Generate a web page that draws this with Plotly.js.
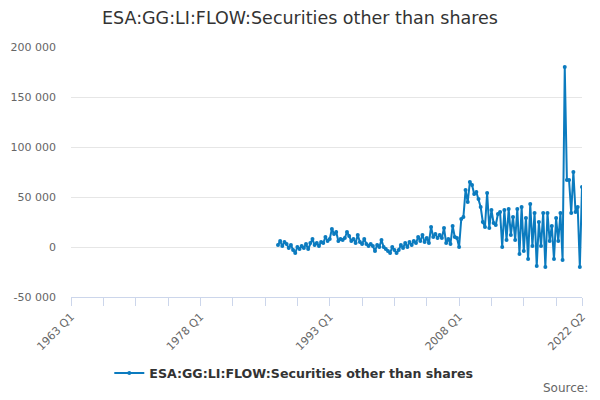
<!DOCTYPE html>
<html>
<head>
<meta charset="utf-8">
<script src="https://cdn.plot.ly/plotly-3.0.1.min.js"></script>
<style>
  html, body { margin: 0; padding: 0; background: #fff; }
  #chart { width: 600px; height: 400px; }
</style>
</head>
<body>
<div id="chart"></div>
<script>
// quarters on the category axis, 1963 Q1 .. 2022 Q2
var quarters = [];
for (var yr = 1963; yr <= 2022; yr++) {
  for (var q = 1; q <= 4; q++) {
    if (yr == 2022 && q > 2) break;
    quarters.push(yr + " Q" + q);
  }
}

// series starts at 1987 Q1
var firstQuarter = "1987 Q1";
var flowValues = [
  // 1987 - 1991
  2000, 6000, 1000, 5000, 3000, -1000, 2000, -3000, -6000, 0,
  -2000, 1000, -1000, 3000, -2000, 4000, 8000, 2000, 4000, 1000,
  // 1992 - 1996
  5000, 4000, 10000, 6000, 8000, 18000, 13000, 15000, 6000, 8000,
  7000, 9000, 15000, 11000, 6000, 8000, 4000, 12000, 5000, 3000,
  // 1997 - 2001
  8000, 3000, 1000, 3000, 1000, -4000, 2000, 0, 7000, 0,
  -2000, -4000, -6000, 0, -3000, -6000, -3000, 2000, -1000, 4000,
  // 2002 - 2006
  0, 5000, 2000, 6000, 4000, 10000, 6000, 12000, 5000, 9000,
  4000, 20000, 10000, 13000, 9000, 12000, 9000, 19000, 4000, 8000,
  // 2007 - 2011
  3000, 21000, 10000, 9000, 0, 28000, 30000, 57000, 45000, 65000,
  62000, 53000, 55000, 48000, 40000, 25000, 20000, 54000, 19000, 37000,
  // 2012 - 2016
  24000, 22000, 33000, 35000, 0, 37000, 7000, 38000, 12000, 30000,
  7000, 38000, -7000, 40000, -4000, 29000, -12000, 43000, 1000, 34000,
  // 2017 - 2022 Q2
  -19000, 25000, 1000, 34000, -20000, 34000, 6000, 21000, -12000, 29000,
  6000, 34000, -13000, 180000, 67000, 67000, 34000, 75000, 35000, 40000,
  -20000, 60000
];

var seriesName = "ESA:GG:LI:FLOW:Securities other than shares";
var chartTitle = "ESA:GG:LI:FLOW:Securities other than shares";

var yTickVals = [-50000, 0, 50000, 100000, 150000, 200000];
var yTickText = ["-50 000", "0", "50 000", "100 000", "150 000", "200 000"];

var xLabelled = ["1963 Q1", "1978 Q1", "1993 Q1", "2008 Q1", "2022 Q2"];

var start = quarters.indexOf(firstQuarter);
var xs = quarters.slice(start, start + flowValues.length);

// ticks every 15 quarters plus the last one
var xTickVals = [], xTickText = [];
for (var i = 0; i < quarters.length; i += 15) {
  xTickVals.push(quarters[i]);
  xTickText.push(xLabelled.indexOf(quarters[i]) >= 0 ? quarters[i] : "");
}
xTickVals.push(quarters[quarters.length - 1]);
xTickText.push(quarters[quarters.length - 1]);

var trace = {
  x: xs,
  y: flowValues,
  mode: "lines+markers",
  type: "scatter",
  name: seriesName,
  line: { color: "#0b7bbf", width: 2 },
  marker: { color: "#0b7bbf", size: 4 }
};

var layout = {
  width: 600,
  height: 400,
  margin: { l: 71, r: 18, t: 47, b: 103 },
  paper_bgcolor: "#fff",
  plot_bgcolor: "#fff",
  font: { family: "DejaVu Sans, sans-serif", color: "#666" },
  title: {
    text: chartTitle,
    font: { size: 17.5, color: "#333" },
    x: 0.5,
    xanchor: "center",
    y: 0.955,
    yanchor: "middle"
  },
  showlegend: true,
  legend: {
    orientation: "h",
    x: 0.436,
    xanchor: "center",
    y: -0.305,
    yanchor: "middle",
    font: { size: 12.6, color: "#333", weight: "bold" }
  },
  xaxis: {
    type: "category",
    categoryorder: "array",
    categoryarray: quarters,
    range: [0, quarters.length - 1],
    tickmode: "array",
    tickvals: xTickVals,
    ticktext: xTickText,
    tickangle: -45,
    ticks: "outside",
    ticklen: 8,
    tickcolor: "#ccd6eb",
    showline: true,
    linecolor: "#ccd6eb",
    showgrid: false,
    zeroline: false,
    tickfont: { size: 11, color: "#666" }
  },
  yaxis: {
    range: [-50000, 200000],
    tickmode: "array",
    tickvals: yTickVals,
    ticktext: yTickText,
    showgrid: true,
    gridcolor: "#e6e6e6",
    zeroline: false,
    showline: false,
    ticks: "",
    ticklabelstandoff: 14,
    tickfont: { size: 11, color: "#666" }
  },
  annotations: [{
    text: "Source:",
    xref: "paper",
    yref: "paper",
    x: 1.016,
    xanchor: "right",
    y: -0.364,
    yanchor: "middle",
    showarrow: false,
    font: { size: 12, color: "#666" }
  }]
};

Plotly.newPlot("chart", [trace], layout, { displayModeBar: false, staticPlot: true });
</script>
</body>
</html>
